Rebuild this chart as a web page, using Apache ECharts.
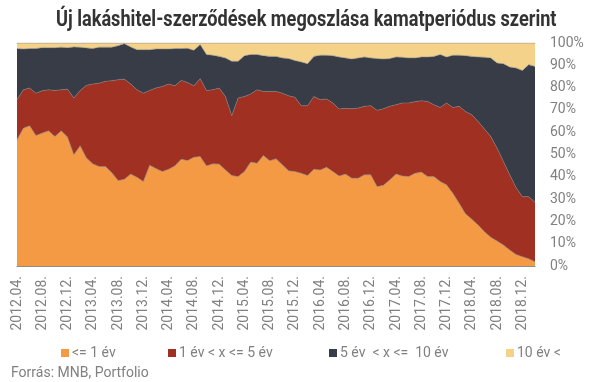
<!DOCTYPE html>
<html>
<head>
<meta charset="utf-8">
<script src="https://cdn.jsdelivr.net/npm/echarts@6/dist/echarts.min.js"></script>
<style>
html,body{margin:0;padding:0;background:#fff;}
#chart{width:605px;height:382px;}
</style>
</head>
<body>
<div id="chart"></div>
<script>
var categories = [
'2012.04.','2012.05.','2012.06.','2012.07.','2012.08.','2012.09.','2012.10.','2012.11.','2012.12.',
'2013.01.','2013.02.','2013.03.','2013.04.','2013.05.','2013.06.','2013.07.','2013.08.','2013.09.','2013.10.','2013.11.','2013.12.',
'2014.01.','2014.02.','2014.03.','2014.04.','2014.05.','2014.06.','2014.07.','2014.08.','2014.09.','2014.10.','2014.11.','2014.12.',
'2015.01.','2015.02.','2015.03.','2015.04.','2015.05.','2015.06.','2015.07.','2015.08.','2015.09.','2015.10.','2015.11.','2015.12.',
'2016.01.','2016.02.','2016.03.','2016.04.','2016.05.','2016.06.','2016.07.','2016.08.','2016.09.','2016.10.','2016.11.','2016.12.',
'2017.01.','2017.02.','2017.03.','2017.04.','2017.05.','2017.06.','2017.07.','2017.08.','2017.09.','2017.10.','2017.11.','2017.12.',
'2018.01.','2018.02.','2018.03.','2018.04.','2018.05.','2018.06.','2018.07.','2018.08.','2018.09.','2018.10.','2018.11.','2018.12.',
'2019.01.','2019.02.'
];
var seriesNames = ['<= 1 év', '1 év < x <= 5 év', '5 év  < x <=  10 év', '10 év <'];
var upTo1 = [
56.6,61.8,62.9,58.5,59.6,60.6,58.1,60.6,57.8,49.9,53.9,48.4,45.8,44.6,44.6,41.9,38.3,38.9,41.2,39.8,37.9,
45.2,43.7,42.4,43.4,44.9,47.9,47.3,48.8,49.1,44.9,45.8,45.7,43.1,40.6,40.1,42.4,46.6,46.1,49.6,47.2,48.1,
45.4,42.7,42.4,41.6,40.6,43.4,43.1,44.3,42.4,40.4,41.2,39.4,39.4,40.9,40.9,35.6,36.2,38.6,41.3,40.4,40.1,
41.6,42.1,40.1,40.1,37.9,36.4,32.6,28.1,23.4,21.0,18.4,15.4,12.9,11.2,9.4,7.2,5.2,4.2,3.3,1.9
];
var from1to5 = [
18.0,17.2,16.9,19.0,19.0,18.4,20.6,18.4,21.5,25.4,24.8,32.6,35.8,37.4,38.2,41.2,45.2,44.9,40.4,39.2,39.6,
33.5,36.1,38.1,38.2,35.9,35.3,35.0,32.0,34.9,33.8,33.2,34.1,32.9,26.8,35.2,33.6,30.5,32.9,28.7,31.1,30.2,
32.1,33.6,33.3,30.3,31.3,32.6,31.5,30.6,30.7,30.0,29.5,31.1,31.4,30.7,31.0,34.2,34.3,33.0,31.0,32.7,33.0,
32.1,32.0,33.7,32.2,33.2,36.7,38.5,43.5,45.9,46.8,46.4,46.0,45.2,41.6,37.5,33.7,30.0,26.9,27.8,26.7
];
var from5to10 = [
22.9,18.3,17.7,20.0,19.3,18.9,19.2,19.1,18.6,22.9,19.4,16.8,15.9,16.1,15.3,15.0,15.3,15.9,16.6,18.0,19.5,
18.3,17.5,16.8,15.7,16.7,14.3,15.3,15.9,15.3,16.1,15.5,14.2,17.3,24.4,16.5,18.3,17.7,15.8,16.0,15.7,15.7,
15.8,16.7,16.4,19.6,18.8,18.0,19.9,19.6,21.2,23.3,22.6,22.3,22.5,22.1,21.4,23.2,22.3,21.4,21.4,20.5,20.2,
19.6,19.6,19.9,21.7,23.7,20.6,23.4,22.9,25.0,26.2,28.9,32.2,35.2,38.2,43.8,48.3,53.6,56.6,59.2,60.9
];
var over10 = [
2.5,2.7,2.5,2.5,2.1,2.1,2.1,1.9,2.1,1.8,1.9,2.2,2.5,1.9,1.9,1.9,1.2,0.3,1.8,3.0,3.0,
3.0,2.7,2.7,2.7,2.5,2.5,2.4,3.3,0.7,5.2,5.5,6.0,6.7,8.2,8.2,5.7,5.2,5.2,5.7,6.0,6.0,
6.7,7.0,7.9,8.5,9.3,6.0,5.5,5.5,5.7,6.3,6.7,7.2,6.7,6.3,6.7,7.0,7.2,7.0,6.3,6.4,6.7,
6.7,6.3,6.3,6.0,5.2,6.3,5.5,5.5,5.7,6.0,6.3,6.4,6.7,9.0,9.3,10.8,11.2,12.3,9.7,10.5
];
var yTicks = [0, 100, 10];
var titleText = 'Új lakáshitel-szerződések megoszlása kamatperiódus szerint';
var sourceText = 'Forrás: MNB, Portfolio';

var colors = ['#F49A45', '#A03022', '#383C46', '#F5D28A'];
var dataSets = [upTo1, from1to5, from5to10, over10];
var legendLefts = [56, 163, 324, 501];

var chart = echarts.init(document.getElementById('chart'), null, {renderer: 'canvas'});
var series = dataSets.map(function (d, k) {
  return {
    name: seriesNames[k],
    type: 'line',
    stack: 'total',
    data: d,
    symbol: 'none',
    smooth: false,
    lineStyle: {width: 0.8, color: 'rgba(128,128,128,0.7)'},
    areaStyle: {color: colors[k], opacity: 1},
    itemStyle: {color: colors[k]},
    emphasis: {disabled: true}
  };
});

var legends = seriesNames.map(function (n, k) {
  return {
    left: legendLefts[k], top: 341,
    itemWidth: 8, itemHeight: 8,
    icon: 'rect',
    textStyle: {fontFamily: 'Roboto', fontSize: 14, color: '#808080', padding: [0, 0, 0, -2]},
    data: [n]
  };
});

chart.setOption({
  animation: false,
  color: colors,
  grid: {left: 17, right: 70, top: 43, bottom: 116, containLabel: false},
  graphic: [
    {type: 'text', left: 56, top: 9, scaleX: 0.825, originX: 0,
     style: {text: titleText, font: 'bold 22px Roboto', fill: '#333333'}},
    {type: 'text', left: 11, top: 366,
     style: {text: sourceText, font: '14px Roboto', fill: '#808080'}}
  ],
  legend: legends,
  xAxis: [{
    type: 'category',
    data: categories,
    boundaryGap: false,
    axisLine: {show: true, lineStyle: {color: '#8c8c8c', width: 1}},
    axisTick: {show: false},
    axisLabel: {interval: function (i) { return i % 4 === 0; }, rotate: 90, margin: 10,
                fontFamily: 'Roboto', fontSize: 14, color: '#808080'},
    splitLine: {show: false}
  }, {
    type: 'category',
    data: categories,
    boundaryGap: false,
    position: 'top',
    axisLine: {show: true, lineStyle: {color: '#d9d9d9', width: 1}},
    axisTick: {show: false},
    axisLabel: {show: false}
  }],
  yAxis: {
    type: 'value',
    position: 'right',
    min: yTicks[0], max: yTicks[1], interval: yTicks[2],
    axisLine: {show: false},
    axisTick: {show: false},
    splitLine: {show: false},
    axisLabel: {formatter: '{value}%', margin: 15, fontFamily: 'Roboto', fontSize: 14, color: '#808080'}
  },
  series: series
});
</script>
</body>
</html>
